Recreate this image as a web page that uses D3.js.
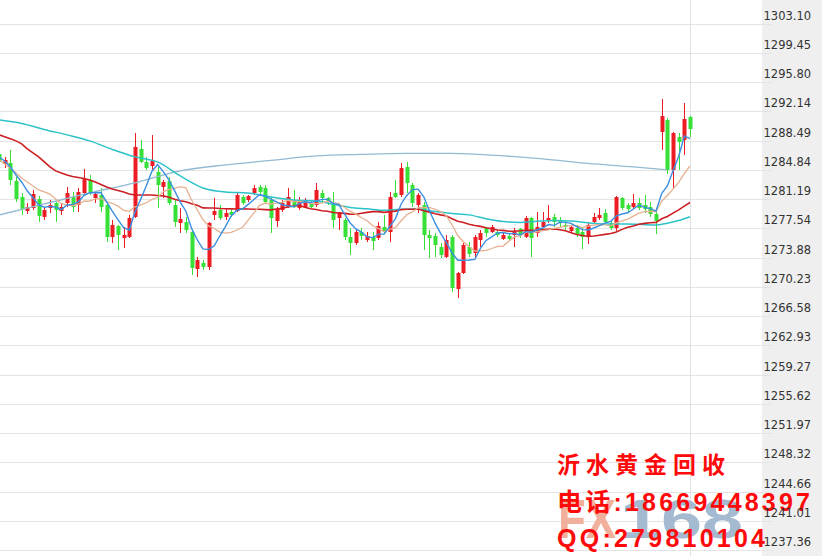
<!DOCTYPE html>
<html><head><meta charset="utf-8">
<script src="https://cdn.jsdelivr.net/npm/d3@7"></script>
<style>html,body{margin:0;padding:0;background:#fff;overflow:hidden}</style>
</head><body>
<svg id="c" width="822" height="556"></svg>
<script>
// ---- data ----
const tickVals = [1303.10,1299.45,1295.80,1292.14,1288.49,1284.84,1281.19,1277.54,1273.88,1270.23,1266.58,1262.93,1259.27,1255.62,1251.97,1248.32,1244.66,1241.01,1237.36];

const open = [1286.83,1285.58,1285.71,1283.46,1281.46,1279.71,1280.09,1281.21,1278.97,1280.09,
1280.71,1279.71,1280.71,1281.46,1280.46,1281.96,1283.59,1281.34,1281.71,1280.46,
1276.47,1277.84,1276.34,1276.47,1278.97,1287.46,1285.83,1285.33,1284.58,1282.71,
1283.46,1280.46,1278.22,1278.34,1277.09,1272.47,1273.22,1272.72,1279.22,1279.84,
1278.97,1279.59,1279.71,1281.46,1281.09,1281.96,1282.71,1282.59,1281.09,1278.47,
1279.84,1280.21,1281.09,1280.09,1280.21,1280.71,1280.46,1281.96,1281.34,1280.71,
1278.84,1278.59,1276.47,1275.72,1277.09,1276.09,1276.47,1276.34,1277.72,1277.09,
1281.96,1281.71,1285.21,1282.96,1280.46,1280.46,1276.72,1276.59,1275.22,1273.97,
1276.47,1269.97,1271.97,1275.22,1274.47,1276.09,1277.59,1277.09,1277.09,1276.22,
1276.59,1276.72,1277.47,1276.47,1278.84,1276.97,1277.72,1278.47,1278.97,1278.47,
1277.97,1277.22,1277.59,1277.09,1276.47,1278.34,1278.84,1279.46,1278.22,1277.59,
1281.34,1280.46,1280.21,1280.71,1280.46,1280.21,1279.34,1289.58,1291.08,1284.83,
1288.95,1288.58,1291.45];
const high = [1287.33,1286.46,1287.33,1283.96,1281.96,1280.71,1282.34,1281.59,1280.21,1281.09,
1280.84,1280.71,1282.71,1282.09,1282.59,1284.96,1284.21,1282.09,1282.59,1280.84,
1278.59,1277.97,1277.72,1279.22,1289.45,1288.58,1286.46,1289.20,1285.21,1283.59,
1283.96,1281.09,1280.09,1278.97,1277.34,1273.97,1273.60,1278.34,1281.34,1280.46,
1280.09,1279.84,1282.09,1281.71,1281.71,1282.96,1282.96,1282.96,1281.46,1280.21,
1281.09,1282.59,1282.34,1281.46,1281.34,1281.09,1283.21,1282.34,1281.46,1282.09,
1279.59,1278.84,1277.59,1277.34,1277.59,1277.09,1277.09,1278.34,1279.22,1282.09,
1283.59,1285.71,1285.83,1283.21,1281.96,1280.84,1277.34,1276.97,1275.72,1276.72,
1276.72,1272.10,1275.72,1275.84,1276.72,1277.34,1277.72,1277.97,1277.34,1276.97,
1276.97,1277.59,1277.59,1279.09,1278.97,1279.59,1279.59,1280.46,1279.34,1278.97,
1278.59,1277.97,1277.97,1277.59,1278.34,1279.46,1280.09,1279.96,1278.59,1281.59,
1281.46,1280.71,1281.84,1281.34,1281.71,1280.84,1279.59,1293.70,1291.33,1289.58,
1289.45,1293.20,1291.58];
const low = [1285.71,1285.08,1282.96,1280.84,1279.22,1279.34,1279.84,1278.34,1278.59,1279.46,
1278.34,1279.22,1280.21,1279.59,1279.59,1281.71,1281.71,1280.71,1279.59,1275.84,
1275.72,1274.84,1275.09,1276.34,1278.84,1285.71,1284.83,1284.83,1280.09,1281.34,
1280.46,1277.72,1276.97,1276.97,1271.72,1271.47,1272.35,1272.35,1278.59,1278.59,
1278.59,1278.97,1279.59,1280.46,1280.84,1281.71,1281.71,1280.71,1276.97,1277.72,
1279.59,1280.09,1280.09,1279.84,1280.09,1280.09,1280.21,1280.84,1280.46,1277.59,
1277.34,1276.09,1274.22,1275.47,1276.09,1275.84,1274.84,1276.09,1276.97,1275.84,
1281.34,1281.46,1281.96,1280.21,1279.46,1274.84,1273.85,1273.97,1273.85,1273.85,
1269.60,1268.85,1271.85,1273.97,1273.97,1275.22,1276.47,1276.97,1276.47,1276.09,
1275.97,1275.22,1276.34,1276.34,1273.97,1276.47,1277.59,1278.22,1277.72,1277.72,
1277.34,1276.97,1276.47,1274.97,1275.59,1278.22,1278.59,1278.22,1277.34,1277.22,
1279.84,1279.59,1279.96,1279.84,1279.46,1278.97,1276.84,1287.33,1284.33,1282.59,
1284.83,1286.71,1288.95];
const close = [1285.83,1286.08,1283.59,1281.21,1279.96,1280.21,1281.84,1279.09,1279.84,1280.46,
1279.84,1280.21,1281.96,1280.21,1282.09,1283.71,1282.09,1281.84,1280.21,1276.47,
1277.97,1276.72,1276.72,1278.84,1287.71,1285.83,1285.08,1285.96,1282.96,1283.34,
1280.71,1278.34,1278.72,1277.34,1272.60,1273.60,1272.72,1278.22,1279.71,1278.84,
1279.46,1279.22,1281.71,1280.71,1281.59,1282.59,1282.09,1280.84,1278.84,1279.96,
1280.71,1281.46,1280.21,1280.84,1281.09,1280.21,1282.34,1281.34,1280.84,1278.59,
1279.46,1276.47,1275.72,1277.09,1276.59,1276.59,1275.97,1277.84,1277.09,1281.46,
1281.46,1285.08,1283.21,1280.71,1281.71,1276.72,1276.34,1275.47,1274.22,1276.09,
1270.10,1271.97,1275.47,1274.35,1276.47,1276.97,1276.97,1277.72,1276.72,1276.72,
1276.22,1277.22,1276.72,1278.84,1276.34,1277.72,1278.34,1278.84,1278.34,1278.22,
1277.72,1277.72,1276.84,1276.47,1277.97,1278.97,1279.22,1278.34,1277.59,1281.46,
1280.09,1279.96,1280.71,1280.09,1279.96,1279.34,1278.47,1291.58,1284.83,1289.45,
1288.33,1291.20,1289.95];

const ma5 = [1286.46,1285.96,1285.21,1284.21,1283.34,1282.21,1281.36,1280.46,1280.19,1280.29,
1280.21,1279.89,1280.46,1280.54,1280.86,1281.64,1282.01,1281.99,1281.99,1280.86,
1279.71,1278.64,1277.62,1277.34,1279.59,1281.16,1282.84,1284.68,1285.51,1284.63,
1283.61,1282.26,1280.81,1279.69,1277.54,1276.12,1274.99,1274.89,1275.37,1276.62,
1277.79,1279.09,1279.79,1279.99,1280.54,1281.16,1281.74,1281.56,1281.19,1280.86,
1280.49,1280.36,1280.24,1280.64,1280.86,1280.76,1280.94,1281.16,1281.16,1280.66,
1280.51,1279.34,1278.22,1277.47,1277.07,1276.49,1276.39,1276.82,1276.82,1277.79,
1278.77,1280.59,1281.66,1282.39,1282.44,1281.49,1279.74,1278.19,1276.89,1275.77,
1274.45,1273.57,1273.57,1273.60,1273.67,1275.05,1276.04,1276.49,1276.97,1277.02,
1276.87,1276.92,1276.72,1277.14,1277.07,1277.37,1277.59,1278.02,1277.92,1278.29,
1278.29,1278.17,1277.77,1277.39,1277.34,1277.59,1277.89,1278.19,1278.42,1279.12,
1279.34,1279.49,1279.96,1280.46,1280.16,1280.01,1279.71,1281.89,1282.84,1284.73,
1286.53,1289.08,1288.75];
const ma10 = [1286.09,1285.59,1285.09,1284.47,1283.84,1283.34,1282.84,1282.34,1282.09,1281.82,
1281.22,1280.63,1280.47,1280.37,1280.58,1280.93,1280.95,1281.23,1281.27,1280.87,
1280.68,1280.33,1279.80,1279.67,1280.23,1280.44,1280.74,1281.15,1281.43,1282.12,
1282.39,1282.55,1282.75,1282.60,1281.09,1279.87,1278.63,1277.85,1277.53,1277.08,
1276.95,1277.04,1277.34,1277.68,1278.58,1279.48,1280.42,1280.68,1280.59,1280.70,
1280.83,1281.05,1280.90,1280.92,1280.87,1280.63,1280.65,1280.70,1280.90,1280.77,
1280.64,1280.14,1279.69,1279.32,1278.87,1278.50,1277.87,1277.52,1277.14,1277.43,
1277.63,1278.49,1279.24,1279.60,1280.12,1280.13,1280.17,1279.93,1279.64,1279.10,
1277.97,1276.65,1275.88,1275.24,1274.72,1274.74,1274.80,1275.03,1275.28,1275.34,
1275.95,1276.48,1276.60,1277.05,1277.04,1277.12,1277.25,1277.37,1277.53,1277.68,
1277.83,1277.88,1277.89,1277.65,1277.82,1277.94,1278.03,1277.98,1277.90,1278.23,
1278.47,1278.69,1279.08,1279.44,1279.64,1279.68,1279.60,1280.93,1281.65,1282.45,
1283.28,1284.40,1285.33];
const ma30 = [1289.22,1288.97,1288.72,1288.47,1288.09,1287.47,1286.97,1286.47,1285.84,1285.22,
1284.72,1284.47,1284.22,1284.03,1283.90,1283.78,1283.59,1283.34,1283.03,1282.72,
1282.47,1282.28,1282.09,1281.84,1281.72,1281.72,1281.72,1281.72,1281.65,1281.60,
1281.43,1281.17,1281.00,1280.88,1280.63,1280.42,1280.10,1280.08,1280.08,1280.02,
1280.00,1279.98,1279.97,1279.98,1279.97,1279.93,1279.93,1279.89,1279.85,1279.97,
1280.05,1280.22,1280.33,1280.40,1280.18,1279.99,1279.90,1279.74,1279.68,1279.52,
1279.48,1279.42,1279.32,1279.30,1279.44,1279.54,1279.64,1279.63,1279.54,1279.63,
1279.70,1279.89,1279.94,1279.94,1279.95,1279.75,1279.57,1279.38,1279.23,1279.10,
1278.74,1278.43,1278.27,1278.05,1277.90,1277.79,1277.62,1277.49,1277.35,1277.29,
1277.18,1277.20,1277.24,1277.30,1277.29,1277.33,1277.40,1277.44,1277.48,1277.38,
1277.25,1277.00,1276.79,1276.65,1276.53,1276.60,1276.69,1276.79,1276.90,1277.08,
1277.42,1277.68,1277.85,1278.05,1278.17,1278.24,1278.29,1278.75,1279.03,1279.45,
1279.85,1280.33,1280.77];
// sampled long averages: [candle index, value]
const ma60 = [[0,1291.09],[4,1290.65],[8,1289.90],[12,1289.22],[16,1288.47],[20,1287.40],[24,1286.47],[28,1285.84],[32,1284.09],[36,1282.59],[40,1282.09],[44,1281.97],[48,1281.47],[52,1281.09],[56,1280.97],
[59,1280.55],[62,1280.15],[65,1279.98],[68,1279.80],[71,1279.93],[74,1279.95],[77,1279.64],[80,1279.40],[83,1279.23],[86,1278.75],[89,1278.40],[92,1278.28],[95,1278.43],[98,1278.52],[101,1278.45],[104,1278.24],[107,1278.09],[110,1278.08],[113,1278.05],[116,1277.95],[118,1278.19],[120,1278.52],[122,1279.00]];
const ma120 = [[0,1279.22],[8,1280.59],[16,1281.97],[24,1283.22],[32,1284.72],[40,1285.47],[48,1286.03],[56,1286.59],[64,1286.78],[72,1286.90],[80,1286.90],[88,1286.65],[96,1286.22],[104,1285.65],[112,1285.22],[118,1284.84]];

const watermark1 = "沂水黄金回收";
const watermark2 = "电话:18669448397";
const watermark3 = "QQ:279810104";

// ---- drawing ----
const svg = d3.select("#c");
const N = close.length;
const x = d3.scaleLinear().domain([0, N - 1]).range([-1, 690]);
const y = d3.scaleLinear().domain([1237.36, 1303.10]).range([550.2, 23.7]);

// axis panel background
svg.append("rect").attr("x", 762).attr("y", 0).attr("width", 60).attr("height", 556).attr("fill", "#efefef");

// horizontal grid
const grid = svg.append("g").attr("transform", "translate(772,0)")
  .call(d3.axisLeft(y).tickValues(tickVals).tickSize(772).tickFormat(""));
grid.select(".domain").remove();
grid.selectAll("line").attr("stroke", "#e4e4e4").attr("shape-rendering", "crispEdges");

// vertical cursor line at last bar
svg.append("line").attr("x1", x(N - 1)).attr("x2", x(N - 1)).attr("y1", 0).attr("y2", 556)
  .attr("stroke", "#e2e2e2").attr("shape-rendering", "crispEdges");

// candles
const idx = d3.range(N);
const upC = "#ec1c24", dnC = "#36e036";
const cg = svg.append("g");
cg.selectAll("line.w").data(idx).join("line")
  .attr("x1", i => Math.round(x(i)) + 0.5).attr("x2", i => Math.round(x(i)) + 0.5)
  .attr("y1", i => y(high[i])).attr("y2", i => y(low[i]))
  .attr("stroke", i => close[i] >= open[i] ? upC : dnC).attr("stroke-width", 1);
cg.selectAll("rect.b").data(idx).join("rect")
  .attr("x", i => Math.round(x(i)) - 1.5).attr("width", 4)
  .attr("y", i => y(Math.max(open[i], close[i])))
  .attr("height", i => Math.max(1, Math.abs(y(open[i]) - y(close[i]))))
  .attr("fill", i => close[i] >= open[i] ? upC : dnC);

// moving average lines
const lineArr = d3.line().x((d, i) => x(i)).y(d => y(d));
const linePair = d3.line().x(d => x(d[0])).y(d => y(d[1])).curve(d3.curveMonotoneX);
svg.append("path").datum(ma120).attr("d", linePair).attr("fill", "none").attr("stroke", "#92bad2").attr("stroke-width", 1.3);
svg.append("path").datum(ma60).attr("d", linePair).attr("fill", "none").attr("stroke", "#2cc3c8").attr("stroke-width", 1.5);
svg.append("path").datum(ma30).attr("d", lineArr).attr("fill", "none").attr("stroke", "#cc1f24").attr("stroke-width", 1.6);
svg.append("path").datum(ma10).attr("d", lineArr).attr("fill", "none").attr("stroke", "#e6b08f").attr("stroke-width", 1.3);
svg.append("path").datum(ma5).attr("d", lineArr).attr("fill", "none").attr("stroke", "#3a8fe0").attr("stroke-width", 1.4);

// FX168 logo watermark
svg.append("text").attr("x", 558).attr("y", 538).attr("textLength", 58).attr("lengthAdjust", "spacingAndGlyphs")
  .attr("font-family", "Liberation Sans, Arial, sans-serif").attr("font-weight", "bold").attr("font-size", 56)
  .attr("fill", "#f1b09c").text("FX");
svg.append("text").attr("x", 620).attr("y", 538).attr("textLength", 123).attr("lengthAdjust", "spacingAndGlyphs")
  .attr("font-family", "Liberation Sans, Arial, sans-serif").attr("font-weight", "bold").attr("font-size", 56)
  .attr("fill", "#a4bad0").text("168");

// red advert text
const redFont = "Liberation Sans, 'Noto Sans CJK SC', sans-serif";
svg.append("text").attr("x", 557).attr("y", 473).attr("textLength", 168).attr("lengthAdjust", "spacing")
  .attr("font-family", redFont).attr("font-weight", "bold").attr("font-size", 23).attr("fill", "#ff0a0a").text(watermark1);
svg.append("text").attr("x", 557).attr("y", 511).attr("textLength", 253).attr("lengthAdjust", "spacing")
  .attr("font-family", redFont).attr("font-weight", "bold").attr("font-size", 25).attr("fill", "#ff0a0a").text(watermark2);
svg.append("text").attr("x", 557).attr("y", 547).attr("textLength", 208).attr("lengthAdjust", "spacing")
  .attr("font-family", redFont).attr("font-weight", "bold").attr("font-size", 25).attr("fill", "#ff0a0a").text(watermark3);

// price axis labels
const ax = svg.append("g").attr("transform", "translate(762,0)")
  .call(d3.axisRight(y).tickValues(tickVals).tickSize(0).tickPadding(1.5).tickFormat(d3.format(".2f")));
ax.select(".domain").remove();
ax.selectAll("text").attr("dy", "-4.5").attr("fill", "#333")
  .attr("font-family", "DejaVu Sans, Verdana, sans-serif").attr("font-size", 11.5);
</script>
</body></html>
